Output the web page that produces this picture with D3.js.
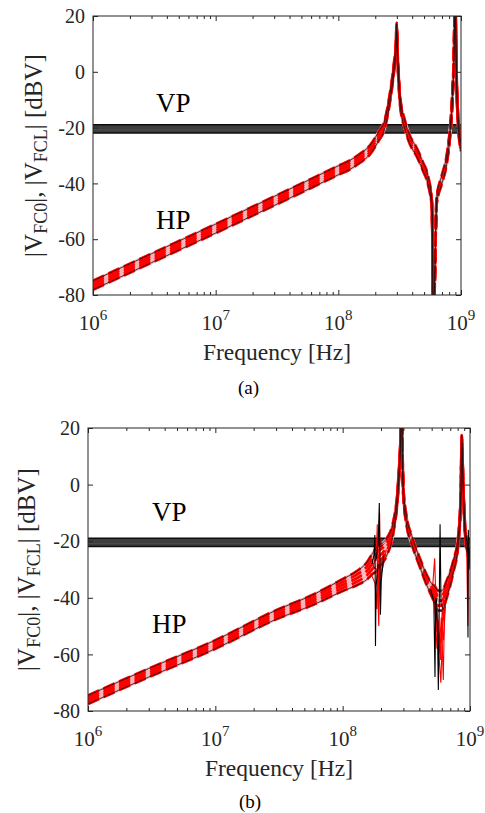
<!DOCTYPE html>
<html>
<head>
<meta charset="utf-8">
<script src="https://cdn.jsdelivr.net/npm/d3@7"></script>
<style>
  body { margin: 0; background: #fff; }
  svg text { font-family: "Liberation Serif", "Times New Roman", serif; }
</style>
</head>
<body>
<svg id="fig" width="485" height="813"></svg>
<script>
// ---- values ----
const xTicks = [1e6, 1e7, 1e8, 1e9]
const xTickExp = ["6", "7", "8", "9"]
const yTicks = [20, 0, -20, -40, -60, -80]

// VP curves: flat bundle around -20 dBV
const vpLevels = [-19.0, -19.6, -20.2, -20.8, -21.4, -21.9]

// family of HP curves = base +/- k * half width
const famK = [-1, -0.5, 0, 0.5, 1]

// panel (a)
const hpFreqA = [1e6, 3e6, 1e7, 3e7, 6e7, 1e8, 1.24e8, 1.5e8, 1.81e8, 2.11e8, 2.4e8, 2.64e8, 2.85e8, 2.95e8, 2.99e8, 3.03e8, 3.1e8, 3.18e8, 3.49e8, 3.84e8, 4.38e8, 4.9e8, 5.38e8, 5.8e8, 5.95e8, 6.34e8, 6.96e8, 7.64e8, 8.13e8, 8.49e8, 8.8e8, 8.94e8, 9.1e8, 9.23e8, 9.51e8, 1e9]
const hpDbA = [-76.5, -66.8, -56.2, -46.3, -40, -35.3, -33.4, -31, -28, -23.4, -18.5, -9, 2, 9, 16, 7, -2, -10, -19, -24.5, -29, -34, -38.8, -48, -90, -46, -38.8, -31.6, -22, -10, 10, 35, 10, -5, -18.5, -27]
const hpHalfA = [1.6, 1.6, 1.6, 1.6, 1.6, 1.6, 1.6, 1.6, 1.6, 1.6, 1.5, 1.5, 1.5, 1.5, 1.5, 1.5, 1.5, 1.5, 1.5, 1.5, 1.5, 1.5, 1.5, 1.2, 1, 1.2, 1.5, 1.5, 1.5, 1.5, 1.5, 1.5, 1.5, 1.5, 1.5, 1.5]

// panel (b)
const hpFreqB = [1e6, 3e6, 1e7, 3e7, 6e7, 1e8, 1.3e8, 1.55e8, 1.68e8, 1.75e8, 1.8e8, 1.9e8, 2.07e8, 2.22e8, 2.5e8, 2.74e8, 2.86e8, 2.9e8, 2.95e8, 2.99e8, 3.18e8, 3.49e8, 4.05e8, 4.57e8, 5.0e8, 5.3e8, 5.6e8, 6.0e8, 6.56e8, 7.39e8, 8.09e8, 8.5e8, 8.6e8, 8.86e8, 9.14e8, 9.5e8, 1e9]
const hpDbB = [-76, -66.5, -56.5, -46, -40.5, -35.5, -33, -30.5, -28.5, -27.5, -27, -25.5, -24, -22, -15, 0.5, 18, 30, 10, -2, -13, -19.6, -27.7, -33.7, -37.2, -39, -41, -41, -37, -29, -19.6, -2, 16, -2, -16, -22, -25]
const hpHalfB = [1.5, 1.5, 1.5, 1.6, 1.8, 2.1, 2.5, 3, 3.5, 3.8, 4, 4, 3.5, 3, 2, 1.5, 1.5, 1.5, 1.5, 1.5, 1.5, 1.5, 1.5, 1.8, 2.2, 3, 3.5, 3.5, 3, 2, 1.5, 1.5, 1.5, 1.5, 1.5, 2, 2]

// resonance spurs in (b)
const spurB1 = [[1.70e8, -28], [1.76e8, -25], [1.79e8, -17.8], [1.80e8, -32], [1.81e8, -57], [1.83e8, -36], [1.9e8, -28]]
const spurB2 = [[1.82e8, -27], [1.90e8, -21], [1.94e8, -6.5], [1.96e8, -24], [1.98e8, -46], [2.01e8, -34], [2.1e8, -25]]
const spurB3 = [[1.72e8, -30], [1.84e8, -24], [1.87e8, -14], [1.89e8, -38], [1.92e8, -50], [1.96e8, -30], [2.1e8, -24]]
const spurB4 = [[1.74e8, -29], [1.86e8, -30], [1.9e8, -44], [1.93e8, -20], [1.95e8, -10], [1.97e8, -36], [2.05e8, -27]]
const spurB5 = [[4.9e8, -37], [5.2e8, -41], [5.31e8, -68], [5.37e8, -44], [5.5e8, -40]]
const spurB6 = [[5.35e8, -40], [5.55e8, -50], [5.64e8, -72.6], [5.72e8, -47], [5.82e8, -14], [5.92e8, -42], [6.15e8, -44]]
const spurB7 = [[5.1e8, -38], [5.4e8, -46], [5.7e8, -60], [6.0e8, -52], [6.17e8, -69], [6.3e8, -45], [6.6e8, -37]]
const spurB8 = [[5.05e8, -38], [5.28e8, -26], [5.42e8, -44], [5.6e8, -55], [5.9e8, -70], [6.1e8, -50], [6.5e8, -38]]
const spurB9 = [[9.3e8, -18], [9.58e8, -22], [9.64e8, -54], [9.7e8, -16], [9.8e8, -30], [1e9, -22]]
const spurB10 = [[9.4e8, -20], [9.62e8, -50], [9.72e8, -22], [1e9, -30]]
const spurB11 = [[5.2e8, -39], [5.45e8, -52], [5.55e8, -44], [5.75e8, -58], [5.95e8, -47], [6.2e8, -55], [6.45e8, -40]]
const spurB12 = [[5.3e8, -42], [5.5e8, -58], [5.65e8, -48], [5.85e8, -62], [6.05e8, -44], [6.25e8, -48], [6.5e8, -39]]
const spurB13 = [[1.65e8, -31], [1.8e8, -35], [1.85e8, -44], [1.88e8, -28], [1.95e8, -33], [2.05e8, -30], [2.2e8, -23]]
const spurB14 = [[5.25e8, -40], [5.5e8, -49], [5.7e8, -53], [5.9e8, -56], [6.1e8, -47], [6.4e8, -41]]
const spursB = [spurB3, spurB4, spurB7, spurB8, spurB10, spurB11, spurB12, spurB13, spurB14, spurB1, spurB2, spurB5, spurB6, spurB9]
const spurColorsB = ["#ff0000", "#ff0000", "#ff0000", "#ff0000", "#ff0000", "#ff0000", "#ff0000", "#ff0000", "#ff0000", "#000", "#000", "#000", "#000", "#000"]

const svg = d3.select("#fig")
const axisColor = "#262626"

function panel (o) {
  const g = svg.append("g")
  const x = d3.scaleLog().domain([1e6, 1e9]).range([o.left, o.right])
  const y = d3.scaleLinear().domain([-80, 20]).range([o.bottom, o.top])

  g.append("clipPath").attr("id", o.id)
    .append("rect")
    .attr("x", o.left).attr("y", o.top)
    .attr("width", o.right - o.left).attr("height", o.bottom - o.top)

  const smooth = d3.line().x(d => x(d[0])).y(d => y(d[1])).curve(d3.curveMonotoneX)
  const straight = d3.line().x(d => x(d[0])).y(d => y(d[1]))

  const plot = g.append("g").attr("clip-path", "url(#" + o.id + ")")

  // VP bundle: filled between the outer levels, lines on top
  const vTop = vpLevels[0], vBot = vpLevels[vpLevels.length - 1]
  plot.append("path")
    .attr("d", d3.area().x(d => x(d)).y0(y(vBot)).y1(y(vTop))([1e6, 1e9]))
    .attr("fill", "#3e3e3e")
  vpLevels.forEach(function (v, i) {
    const edge = i === 0 || i === vpLevels.length - 1
    plot.append("path")
      .attr("d", straight([[1e6, v], [1e9, v]]))
      .attr("fill", "none")
      .attr("stroke", edge ? "#0d0d0d" : (i === 3 ? "#4c4c4c" : "#3e3e3e"))
      .attr("stroke-width", edge ? 1.5 : 1)
  })

  // HP family
  const fam = famK.map(k => o.freq.map((f, i) => [f, o.db[i] + k * o.half[i]]))
  fam.forEach(function (c) {
    plot.append("path").attr("d", smooth(c))
      .attr("fill", "none").attr("stroke", "#f7b4ba").attr("stroke-width", 2.8)
  })
  fam.forEach(function (c) {
    plot.append("path").attr("d", smooth(c))
      .attr("fill", "none").attr("stroke", "#ff0000").attr("stroke-width", 2.8)
      .attr("stroke-dasharray", "12,5")
  })
  o.spurs.forEach(function (s, i) {
    plot.append("path").attr("d", straight(s))
      .attr("fill", "none").attr("stroke", o.spurColors[i]).attr("stroke-width", 1.1)
  })
  ;[fam[0], fam[fam.length - 1]].forEach(function (c) {
    plot.append("path").attr("d", smooth(c))
      .attr("fill", "none").attr("stroke", "#111").attr("stroke-width", 0.8)
  })

  // box + inward ticks
  const minor = x.ticks().filter(t => xTicks.indexOf(t) < 0)
  const ax = [
    d3.axisBottom(x).tickValues(minor).tickSize(-3).tickFormat(""),
    d3.axisBottom(x).tickValues(xTicks).tickSize(-5).tickFormat("")
  ]
  ax.forEach(a => g.append("g").attr("transform", "translate(0," + o.bottom + ")").call(a))
  const axT = [
    d3.axisTop(x).tickValues(minor).tickSize(-3).tickFormat(""),
    d3.axisTop(x).tickValues(xTicks).tickSize(-5).tickFormat("")
  ]
  axT.forEach(a => g.append("g").attr("transform", "translate(0," + o.top + ")").call(a))
  g.append("g").attr("transform", "translate(" + o.left + ",0)")
    .call(d3.axisLeft(y).tickValues(yTicks).tickSize(-5).tickFormat(""))
  g.append("g").attr("transform", "translate(" + o.right + ",0)")
    .call(d3.axisRight(y).tickValues(yTicks).tickSize(-5).tickFormat(""))
  g.selectAll(".domain").remove()
  g.selectAll(".tick line").attr("stroke", axisColor)

  g.append("rect")
    .attr("x", o.left).attr("y", o.top)
    .attr("width", o.right - o.left).attr("height", o.bottom - o.top)
    .attr("fill", "none").attr("stroke", axisColor).attr("stroke-width", 1)

  // tick labels
  yTicks.forEach(function (t) {
    g.append("text")
      .attr("x", o.left - 8).attr("y", y(t)).attr("dy", "0.36em")
      .attr("text-anchor", "end").attr("fill", axisColor)
      .style("font-size", "20px")
      .text(t)
  })
  xTicks.forEach(function (t, i) {
    const tx = g.append("text")
      .attr("x", x(t)).attr("y", o.bottom + 35)
      .attr("text-anchor", "middle").attr("fill", axisColor)
      .style("font-size", "21px")
    tx.append("tspan").text("10")
    tx.append("tspan").attr("dy", -10).style("font-size", "15px").text(xTickExp[i])
  })

  // axis labels
  g.append("text")
    .attr("x", (o.left + o.right) / 2).attr("y", o.bottom + 65)
    .attr("text-anchor", "middle").attr("fill", axisColor)
    .style("font-size", "23.5px")
    .text("Frequency [Hz]")

  const yl = g.append("text")
    .attr("transform", "translate(" + o.ylabX + "," + (o.top + o.bottom) / 2 + ") rotate(-90)")
    .attr("text-anchor", "middle").attr("fill", axisColor)
    .style("font-size", "25px")
  yl.append("tspan").text("|V")
  yl.append("tspan").attr("dy", 5).style("font-size", "18px").text("FC0")
  yl.append("tspan").attr("dy", -5).text("|, |V")
  yl.append("tspan").attr("dy", 5).style("font-size", "18px").text("FCL")
  yl.append("tspan").attr("dy", -5).text("| [dBV]")

  // VP / HP annotations
  g.append("text").attr("x", o.vpX).attr("y", o.vpY)
    .style("font-size", "27px").attr("fill", "#000").text("VP")
  g.append("text").attr("x", o.vpX).attr("y", o.hpY)
    .style("font-size", "27px").attr("fill", "#000").text("HP")

  // caption
  g.append("text")
    .attr("x", o.capX).attr("y", o.capY)
    .attr("text-anchor", "middle").attr("fill", "#000")
    .style("font-size", "19px")
    .text(o.caption)
}

panel({
  id: "clipA", left: 93, right: 461, top: 16, bottom: 295,
  freq: hpFreqA, db: hpDbA, half: hpHalfA, spurs: [], spurColors: [],
  ylabX: 42, vpX: 156, vpY: 112, hpY: 229,
  capX: 248.5, capY: 394, caption: "(a)"
})

panel({
  id: "clipB", left: 88, right: 470, top: 428, bottom: 711,
  freq: hpFreqB, db: hpDbB, half: hpHalfB, spurs: spursB, spurColors: spurColorsB,
  ylabX: 35, vpX: 152, vpY: 521, hpY: 633,
  capX: 250, capY: 808, caption: "(b)"
})
</script>
</body>
</html>
